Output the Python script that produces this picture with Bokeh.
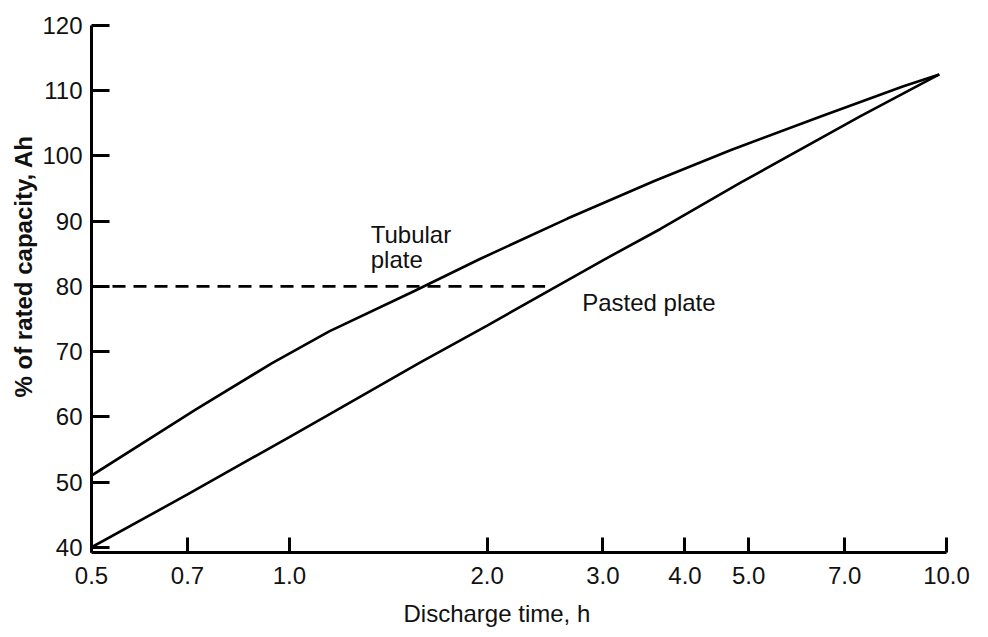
from bokeh.plotting import figure
from bokeh.models import FixedTicker, CustomJSTickFormatter, Title
from bokeh.core.properties import value
from bokeh.embed import file_html
from bokeh.resources import INLINE

# --- data ---
tubular_x = [0.5, 0.72, 0.94, 1.15, 1.55, 1.95, 2.65, 3.6, 4.7, 6.45, 8.6, 9.75]
tubular_y = [51.0, 61.1, 68.2, 73.1, 79.3, 84.2, 90.4, 96.2, 100.9, 106.1, 110.7, 112.5]

pasted_x = [0.5, 0.7, 1.0, 1.17, 1.58, 2.0, 3.0, 3.67, 4.86, 7.4, 9.75]
pasted_y = [40.0, 48.1, 56.9, 60.8, 68.3, 74.0, 84.0, 88.8, 95.9, 106.1, 112.5]

ref_x = [0.5, 2.45]
ref_y = [80, 80]

x_ticks = [0.5, 0.7, 1.0, 2.0, 3.0, 4.0, 5.0, 7.0, 10.0]
y_ticks = [40, 50, 60, 70, 80, 90, 100, 110, 120]

x_label = "Discharge time, h"
y_label = "% of rated capacity, Ah"

FONT = "Liberation Sans"

p = figure(width=984, height=637, x_axis_type="log",
           x_range=(0.5, 10.0), y_range=(39.2, 120),
           output_backend="svg", toolbar_location=None,
           min_border_left=91, min_border_top=25,
           min_border_right=38, min_border_bottom=85)
p.outline_line_color = None
p.grid.visible = False
p.background_fill_color = "white"

p.line(tubular_x, tubular_y, line_color="black", line_width=2.6)
p.line(pasted_x, pasted_y, line_color="black", line_width=2.6)
p.line(ref_x, ref_y, line_color="black", line_width=2.8, line_dash="13 8")

# axes
for ax in (p.xaxis[0], p.yaxis[0]):
    ax.axis_line_width = 3
    ax.axis_line_color = "black"
    ax.major_tick_line_width = 3
    ax.major_tick_line_color = "black"
    ax.major_tick_out = 0
    ax.minor_tick_line_color = None
    ax.major_label_text_font = FONT
    ax.major_label_text_font_size = "24px"
    ax.major_label_text_color = "#111111"

p.xaxis.ticker = FixedTicker(ticks=x_ticks)
p.xaxis.formatter = CustomJSTickFormatter(code="return tick.toFixed(1);")
p.xaxis.major_tick_in = 15
p.xaxis.major_label_standoff = 14

p.yaxis.ticker = FixedTicker(ticks=y_ticks)
p.yaxis.major_tick_in = 18
p.yaxis.major_label_standoff = 9

# axis titles (offset from the frame's start, as in the reference)
p.add_layout(Title(text=x_label, align="left", offset=312,
                   text_font=FONT, text_font_size="24px",
                   text_font_style="normal", text_color="#111111",
                   standoff=22), "below")
p.add_layout(Title(text=y_label, align="left", offset=155,
                   text_font=FONT, text_font_size="24px",
                   text_font_style="bold", text_color="#111111",
                   standoff=5), "left")

# inline annotations
p.text(x=[1.33, 1.33, 2.79], y=[88.0, 84.1, 77.5],
       text=["Tubular", "plate", "Pasted plate"],
       text_font=value(FONT), text_font_size="24px", text_color="#111111",
       text_align="left", text_baseline="alphabetic")

open("out.html", "w").write(file_html(p, INLINE))
